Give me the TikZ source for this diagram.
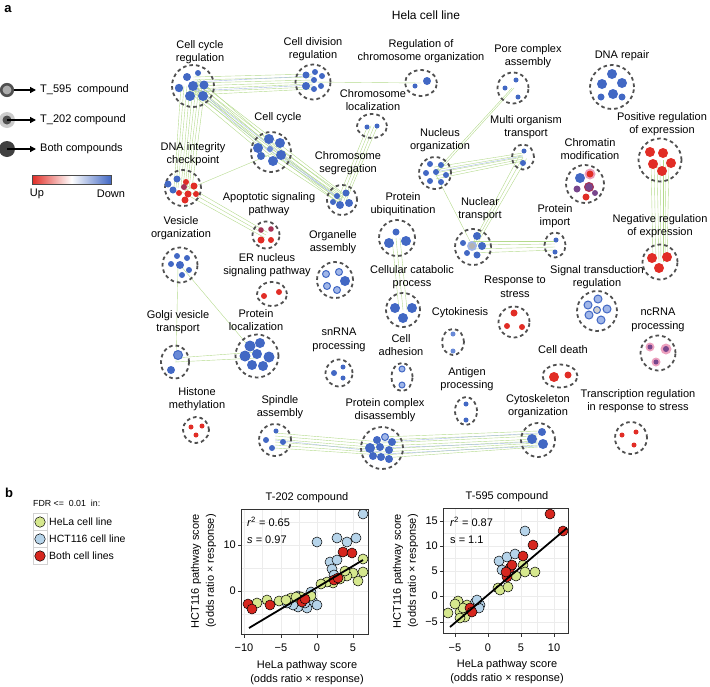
\documentclass[tikz,border=0pt]{standalone}
\usepackage{fontspec}
\setmainfont{Liberation Sans}
\usetikzlibrary{shapes.geometric,arrows.meta,backgrounds}
\definecolor{dblue}{RGB}{66,104,196}
\definecolor{mblue}{RGB}{105,138,215}
\definecolor{lblue}{RGB}{160,182,232}
\definecolor{dred}{RGB}{225,45,38}
\definecolor{wred}{RGB}{165,50,85}
\definecolor{purp}{RGB}{120,70,140}
\definecolor{pinkh}{RGB}{236,160,190}
\definecolor{dashgray}{RGB}{80,80,80}
\definecolor{egreen}{RGB}{180,218,140}
\definecolor{eblue}{RGB}{170,188,232}
\definecolor{sgreen}{RGB}{214,232,142}
\definecolor{sblue}{RGB}{182,212,234}
\definecolor{sred}{RGB}{214,38,30}
\definecolor{gridc}{RGB}{236,236,236}
\newcommand\pts[2]{\foreach \px/\py/\pr in {#2}{\path[#1] (\px,\py) circle[radius=\pr];}}
\newcommand\scat[2]{\foreach \px/\py in {#2}{\path[#1] (\px,\py) circle[radius=5];}}
\newcommand\bund[6]{\foreach \s/\e in {#6}{\draw[#5] ([shift={({\s*(#3)},{\s*(#4)})}]#1.center) -- ([shift={({\e*(#3)},{\e*(#4)})}]#2.center);}}
\begin{document}
\begin{tikzpicture}[x=1pt,y=-1pt,
  clus/.style={circle, draw=dashgray, line width=1.8pt, dash pattern=on 3.6pt off 3pt, inner sep=0pt},
  ell/.style={ellipse, draw=dashgray, line width=1.8pt, dash pattern=on 3.6pt off 3pt, inner sep=0pt},
  lab/.style={align=center, font=\fontsize{11}{13.6}\selectfont, inner sep=0pt},
  tk/.style={align=center, font=\fontsize{11}{13.6}\selectfont, inner sep=0pt},
  bd/.style={fill=dblue},
  mb/.style={fill=mblue},
  rd/.style={fill=dred},
  wr/.style={fill=wred},
  br/.style={fill=lblue, draw=dblue, line width=1pt},
  ed/.style={draw=egreen, line width=0.4pt},
  eb/.style={draw=eblue, line width=0.4pt},
  sg/.style={fill=sgreen, draw=black, line width=0.5pt},
  sb/.style={fill=sblue, draw=black, line width=0.5pt},
  sr/.style={fill=sred, draw=black, line width=0.5pt},
  arr/.style={-{Triangle[length=6pt,width=6pt]}, line width=1.3pt},
  key/.style={rectangle, draw=gray!35, line width=0.5pt, minimum width=14pt, minimum height=17pt, inner sep=0pt},
  kc/.style={circle, draw=black, line width=0.5pt, minimum size=10.5pt, inner sep=0pt}
]
\useasboundingbox (0,0) rectangle (710,686);

% panel letters and title
\node[font=\fontsize{13}{15}\selectfont\bfseries] (pa) at (8,9) {a};
\node[font=\fontsize{13}{15}\selectfont\bfseries] (pb) at (9,493) {b};
\node[font=\fontsize{12}{14}\selectfont] (title) at (426,15) {Hela cell line};

% legend a
\node[circle, fill=gray!65, draw=dashgray, line width=2.6pt, minimum size=11.5pt, inner sep=0pt] (lg1) at (7,90) {};
\node[circle, fill=gray!40, minimum size=16pt, inner sep=0pt] (lg2) at (7,120) {};
\node[circle, fill=dashgray, minimum size=9pt, inner sep=0pt] (lg2i) at (7,120) {};
\node[circle, fill=black!75, minimum size=16pt, inner sep=0pt] (lg3) at (7,149) {};
\node[lab, anchor=west] (lt1) at (40,90) {T\_595~~compound};
\node[lab, anchor=west] (lt2) at (40,120) {T\_202 compound};
\node[lab, anchor=west] (lt3) at (40,149) {Both compounds};
\draw[arr] (lg1.east) -- ([xshift=-4pt]lt1.west);
\draw[arr] (lg2.center) -- ([xshift=-4pt]lt2.west);
\draw[arr] (lg3.center) -- ([xshift=-4pt]lt3.west);
\shade[left color=dred, right color=dblue, middle color=white] (32,175) rectangle (111,184);
\draw[black!70, line width=0.5pt] (32,175) rectangle (111,184);
\node[lab] (up) at (37,194) {Up};
\node[lab] (down) at (111,194) {Down};

% clusters
\node[clus, minimum size=42pt] (ccr) at (193,86) {};
\node[clus, minimum size=35pt] (cdr) at (313,82) {};
\node[ell, minimum width=32pt, minimum height=26pt] (rco) at (421,83) {};
\node[clus, minimum size=31pt] (pca) at (513,88) {};
\node[clus, minimum size=44pt] (dr) at (612,87) {};
\node[ell, minimum width=30pt, minimum height=24pt] (cl) at (372,126) {};
\node[clus, minimum size=40pt] (cc) at (271,152) {};
\node[clus, minimum size=36pt] (dic) at (183,188) {};
\node[clus, minimum size=30pt] (cs) at (342,200) {};
\node[clus, minimum size=27pt] (aps) at (266,235) {};
\node[clus, minimum size=35pt] (vo) at (180,265) {};
\node[clus, minimum size=36pt] (pu) at (397,238) {};
\node[clus, minimum size=36pt] (oa) at (335,280) {};
\node[ell, minimum width=30pt, minimum height=24pt] (ern) at (272,294) {};
\node[clus, minimum size=34pt] (ccp) at (403,310) {};
\node[ell, minimum width=28pt, minimum height=33pt] (gvt) at (175,362) {};
\node[clus, minimum size=43pt] (pl) at (257,356) {};
\node[clus, minimum size=27pt] (sn) at (339,373) {};
\node[ell, minimum width=21pt, minimum height=28pt] (ca) at (402,377) {};
\node[clus, minimum size=26pt] (hm) at (196,430) {};
\node[clus, minimum size=32pt] (sa) at (275,440) {};
\node[clus, minimum size=42pt] (pcd) at (382,448) {};
\node[clus, minimum size=32pt] (no) at (435,173) {};
\node[ell, minimum width=22pt, minimum height=25pt] (mot) at (523,157) {};
\node[clus, minimum size=38pt] (chm) at (585,184) {};
\node[clus, minimum size=43pt] (pre) at (660,160) {};
\node[clus, minimum size=35pt] (nre) at (660,262) {};
\node[clus, minimum size=36pt] (nt) at (473,247) {};
\node[ell, minimum width=21pt, minimum height=25pt] (pi) at (555,245) {};
\node[clus, minimum size=31pt] (rs) at (514,322) {};
\node[clus, minimum size=40pt] (std) at (597,311) {};
\node[ell, minimum width=22pt, minimum height=26pt] (cy) at (453,342) {};
\node[clus, minimum size=35pt] (nc) at (658,353) {};
\node[ell, minimum width=35pt, minimum height=23pt] (cd) at (560,376) {};
\node[ell, minimum width=22pt, minimum height=28pt] (ap) at (466,411) {};
\node[clus, minimum size=34pt] (co) at (538,440) {};
\node[clus, minimum size=32pt] (trs) at (631,438) {};

% cluster labels
\node[lab] (l1) at (200,52) {Cell cycle\\regulation};
\node[lab] (l2) at (313,49) {Cell division\\regulation};
\node[lab] (l3) at (421,51) {Regulation of\\chromosome organization};
\node[lab] (l4) at (528,56) {Pore complex\\assembly};
\node[lab] (l5) at (622,56) {DNA repair};
\node[lab] (l6) at (373,100) {Chromosome\\localization};
\node[lab] (l7) at (278,118) {Cell cycle};
\node[lab] (l8) at (193,154) {DNA integrity\\checkpoint};
\node[lab] (l9) at (348,163) {Chromosome\\segregation};
\node[lab] (l10) at (269,204) {Apoptotic signaling\\pathway};
\node[lab] (l11) at (181,228) {Vesicle\\organization};
\node[lab] (l12) at (403,204) {Protein\\ubiquitination};
\node[lab] (l13) at (333,242) {Organelle\\assembly};
\node[lab] (l14) at (267,265) {ER nucleus\\signaling pathway};
\node[lab] (l15) at (412,277) {Cellular catabolic\\process};
\node[lab] (l16) at (178,322) {Golgi vesicle\\transport};
\node[lab] (l17) at (256,320) {Protein\\localization};
\node[lab] (l18) at (339,340) {snRNA\\processing};
\node[lab] (l19) at (401,345) {Cell\\adhesion};
\node[lab] (l20) at (197,399) {Histone\\methylation};
\node[lab] (l21) at (280,407) {Spindle\\assembly};
\node[lab] (l22) at (385,410) {Protein complex\\disassembly};
\node[lab] (l23) at (440,140) {Nucleus\\organization};
\node[lab] (l24) at (526,127) {Multi organism\\transport};
\node[lab] (l25) at (590,149) {Chromatin\\modification};
\node[lab] (l26) at (662,124) {Positive regulation\\of expression};
\node[lab] (l27) at (660,226) {Negative regulation\\of expression};
\node[lab] (l28) at (480,209) {Nuclear\\transport};
\node[lab] (l29) at (555,216) {Protein\\import};
\node[lab] (l30) at (515,287) {Response to\\stress};
\node[lab] (l31) at (597,277) {Signal transduction\\regulation};
\node[lab] (l32) at (460,313) {Cytokinesis};
\node[lab] (l33) at (658,320) {ncRNA\\processing};
\node[lab] (l34) at (563,350) {Cell death};
\node[lab] (l35) at (467,379) {Antigen\\processing};
\node[lab] (l36) at (538,406) {Cytoskeleton\\organization};
\node[lab] (l37) at (638,401) {Transcription regulation\\in response to stress};

% edges
\begin{scope}[on background layer]
\bund{ccr}{cdr}{0}{1}{ed}{-9/-8,-6/-5,-3/-2,0/0,3/2,6/5,9/7}
\bund{ccr}{cdr}{0}{1}{eb}{-4/-6,5/3}
\bund{ccr}{cc}{-0.65}{0.76}{ed}{-9/-7,-5/-4,-1/0,3/3,7/6}
\bund{ccr}{cc}{-0.65}{0.76}{eb}{1/1}
\bund{ccr}{dic}{1}{0}{ed}{-12/-9,-9/-7,-6/-5,-3/-2,0/0,3/2,6/4,9/6,12/9}
\bund{ccr}{cs}{-0.61}{0.79}{ed}{-7/-6,-4/-3,-1/0,2/2,5/4}
\bund{ccr}{cs}{-0.61}{0.79}{eb}{0/1}
\bund{cc}{cs}{-0.56}{0.83}{ed}{-7/-5,-3/-2,1/1,5/4}
\bund{cc}{cs}{-0.56}{0.83}{eb}{-1/0}
\bund{cc}{dic}{0.5}{0.86}{ed}{2/3}
\bund{cdr}{rco}{0}{1}{ed}{0/0}
\bund{cl}{cs}{0.93}{0.38}{ed}{-4/-4,-1/-1,2/2,5/4}
\bund{dic}{aps}{-0.49}{0.87}{ed}{-4/-3,0/0,4/3}
\bund{vo}{gvt}{1}{0}{ed}{-2/1}
\bund{vo}{pl}{1}{0}{ed}{0/0}
\bund{gvt}{pl}{0}{1}{ed}{-4/-4,0/2}
\bund{no}{mot}{0.18}{0.98}{ed}{-6/-4,-3/-2,0/0,3/2,6/4}
\bund{no}{mot}{0.18}{0.98}{eb}{-1/-1}
\bund{no}{pca}{1}{0}{ed}{-1/-1,2/1}
\bund{no}{nt}{1}{0}{ed}{0/0}
\bund{mot}{nt}{0.9}{0.4}{ed}{-4/-2,0/0,4/2}
\bund{nt}{pi}{0}{1}{ed}{-6/-4,-2/-1,2/2,6/5}
\bund{pre}{nre}{1}{0}{ed}{-9/-7,-6/-4,-3/-1,0/1,3/3,6/5,9/7}
\bund{pu}{ccp}{1}{0}{ed}{-5/-4,-1/0,3/4}
\bund{sa}{pcd}{0}{1}{ed}{-7/-6,-4/-3,-1/0,2/2,5/5,8/7}
\bund{sa}{pcd}{0}{1}{eb}{0/4}
\bund{pcd}{co}{0}{1}{ed}{-11/-9,-8/-6,-5/-4,-2/-1,1/1,4/3,7/5,10/7}
\bund{pcd}{co}{0}{1}{eb}{-6/-7,0/2,6/6}
\end{scope}

% dots
\pts{bd}{187/77/4, 198/73/3, 179/88/4.2, 193/86/5, 204/85/4.5, 190/96/5, 203/96/5}
\pts{bd}{306/75/3.5, 315/72/3, 322/76/3, 306/86/4, 314/80/3, 321/86/3, 314/89/3}
\pts{bd}{415/86/2.5, 427/81/4}
\pts{bd}{516/80/2.5, 505/88/2.5, 518/97/2.5}
\pts{bd}{612/74/5, 602/84/5, 622/83/5, 613/94/5, 601/97/3.5, 622/97/3.5}
\pts{bd}{367/127/2.5, 377/126/2.5}
\pts{bd}{269/139/5, 280/143/5, 258/148/5, 281/155/5, 261/156/4, 273/161/5}
\pts{mb}{270/149/3}
\pts{bd}{177/179/3.5, 168/184/3.5, 173/190/3.5}
\pts{rd}{186/182/3, 194/186/3.5, 179/193/3, 188/194/3.5, 185/200/3.5, 196/194/3}
\pts{wr}{184/187/3}
\pts{bd}{337/196/3, 346/193/3.5, 333/202/3, 340/205/4, 349/203/4}
\pts{wr}{261/230/2.8, 271/229/2.8}
\pts{rd}{261/240/3.5, 271/240/3}
\pts{bd}{177/256/3, 187/258/3, 171/264/3, 180/265/4, 189/270/3, 182/275/3}
\pts{bd}{396/232/3.5, 389/243/5, 406/241/5}
\pts{br}{326/274/3.5, 339/272/3.5, 327/286/3.5, 337/290/3.5}
\pts{bd}{345/281/5}
\pts{rd}{264/296/3, 279/292/3}
\pts{bd}{395/308/5, 412/308/5, 403/318/5}
\pts{fill=mblue, draw=dblue, line width=1pt}{178/355/4.5}
\pts{bd}{171/370/4}
\pts{bd}{250/346/5.5, 260/343/5, 245/356/5.5, 257/354/5, 269/357/5.5, 252/365/5, 263/366/5}
\pts{bd}{343/367/2.5, 334/373/3, 343/378/2.5}
\pts{br}{402/369/3, 402/385/3}
\pts{rd}{191/427/2.5, 202/426/2.5, 196/435/2.5}
\pts{bd}{276/431/2.5, 266/440/3, 283/442/3, 272/448/3}
\pts{bd}{377/440/4, 392/442/4, 370/448/5, 380/447/4, 389/450/4, 373/456/4, 381/457/4, 389/459/4}
\pts{br}{385/437/3.5}
\pts{bd}{430/164/3, 441/165/3, 426/173/3, 436/172/3, 446/175/3, 430/181/3, 441/182/3}
\pts{bd}{524/151/2.5, 523/163/3}
\pts{bd}{580/178/5}
\pts{fill=pinkh}{590/174/5.5}
\pts{rd}{590/174/3.5, 586/197/3.5}
\pts{fill=purp}{577/189/3.5, 595/193/3}
\pts{fill=purp, draw=wred, line width=1pt}{589/187/4.5}
\pts{rd}{650/152/5, 663/153/5, 653/164/5, 671/163/5, 662/171/5}
\pts{rd}{652/258/5, 667/257/5, 659/268/5}
\pts{bd}{477/236/4, 463/243/3, 482/246/4, 467/253/3, 477/255/3.5}
\pts{fill=lblue}{472/246/5}
\pts{fill=gray!60}{472/246/3}
\pts{bd}{556/240/2.5, 555/252/2.5}
\pts{rd}{514/313/3.5, 507/326/3, 522/327/3}
\pts{br}{598/299/4, 588/305/4, 607/309/4, 589/315/4, 601/320/4}
\pts{fill=gray!35, draw=dblue, line width=1pt}{597/310/3.5}
\pts{mb}{453/334/2.5, 453/351/2.5}
\pts{fill=pinkh}{650/347/4.5, 666/349/5.5, 656/362/4.5}
\pts{fill=purp}{650/347/2.5, 666/349/3, 656/362/2.5}
\pts{rd}{554/377/5, 568/375/3.5}
\pts{bd}{466/404/2.5, 466/420/2.5}
\pts{bd}{542/432/4, 532/439/5, 543/444/5}
\pts{rd}{622/435/2.5, 636/432/2.5, 634/445/2.5}

% ---------- panel b legend
\node[font=\fontsize{8.8}{10}\selectfont, anchor=west, inner sep=0pt] (fdr) at (33,503) {FDR <=~~0.01~~in:};
\node[key] (k1) at (40,522) {};
\node[key] (k2) at (40,539) {};
\node[key] (k3) at (40,556) {};
\node[kc, fill=sgreen] (c1) at (k1) {};
\node[kc, fill=sblue] (c2) at (k2) {};
\node[kc, fill=sred] (c3) at (k3) {};
\node[tk, anchor=west, font=\fontsize{10.5}{12}\selectfont] (kt1) at (49,522) {HeLa cell line};
\node[tk, anchor=west, font=\fontsize{10.5}{12}\selectfont] (kt2) at (49,539) {HCT116 cell line};
\node[tk, anchor=west, font=\fontsize{10.5}{12}\selectfont] (kt3) at (49,556) {Both cell lines};

% ---------- plot 1
\begin{scope}
\clip (241,509) rectangle (368,634);
\foreach \gx in {244,262,281,299,317,335,353} \draw[gridc, line width=0.5pt] (\gx,509) -- (\gx,634);
\foreach \gy in {522,545,568,591,614} \draw[gridc, line width=0.5pt] (241,\gy) -- (368,\gy);
\scat{sb}{363/514, 317/542, 337/538, 347/542, 356/538, 330/562, 337/560, 332/569, 334/575, 292/600, 298/596, 303/598, 308/597, 313/602, 317/605, 298/607, 307/608, 293/605, 287/603, 311/592, 305/603}
\scat{sg}{363/559, 363/572, 358/581, 353/573, 347/576, 340/579, 345/571, 333/583, 327/582, 321/584, 291/598, 301/597, 279/601, 267/600, 257/603, 286/600, 296/597, 311/596}
\scat{sr}{343/552, 352/553, 334/580, 248/604, 252/609, 270/605, 302/602, 305/599, 338/578}
\draw[black, line width=1.8pt] (249,628) -- (363,560);
\end{scope}
\draw[black!80, line width=0.8pt] (241,509) rectangle (368,634);
\foreach \gx in {244,281,317,353} \draw[black!80, line width=0.6pt] (\gx,634) -- (\gx,637.5);
\foreach \gy in {545,591} \draw[black!80, line width=0.6pt] (241,\gy) -- (237.5,\gy);
\node[tk] (t1) at (307,498) {T-202 compound};
\node[tk, anchor=east] (y1a) at (236,545) {10};
\node[tk, anchor=east] (y1b) at (236,591) {0};
\node[tk] (x1a) at (244,648) {−10};
\node[tk] (x1b) at (281,648) {−5};
\node[tk] (x1c) at (317,648) {0};
\node[tk] (x1d) at (353,648) {5};
\node[tk, anchor=west] (r1) at (247,522) {\textit{r}\textsuperscript{2} = 0.65};
\node[tk, anchor=west] (s1) at (247,540) {\textit{s} = 0.97};
\node[tk] (xl1) at (307,666) {HeLa pathway score};
\node[tk] (xl1b) at (307,680) {(odds ratio × response)};
\node[tk, rotate=90] (yl1) at (196,571) {HCT116 pathway score};
\node[tk, rotate=90] (yl1b) at (211,571) {(odds ratio × response)};

% ---------- plot 2
\begin{scope}
\clip (443,508) rectangle (568,633);
\foreach \gx in {455,471.5,488,504.5,521,537.5,554} \draw[gridc, line width=0.5pt] (\gx,508) -- (\gx,633);
\foreach \gy in {622,609,596,583.5,571,558,546,533,521} \draw[gridc, line width=0.5pt] (443,\gy) -- (568,\gy);
\scat{sb}{525/531, 499/561, 507/557, 515/554, 502/570, 475/603, 480/605, 479/608, 477/600}
\scat{sg}{523/565, 525/572, 535/572, 516/576, 498/588, 500/590, 508/587, 458/601, 448/613, 460/612, 465/617, 460/618, 467/605, 463/608, 455/604}
\scat{sr}{550/514, 563/531, 533/545, 523/556, 510/568, 507/577, 512/565, 470/608, 472/612, 506/572}
\draw[black, line width=1.8pt] (450,627) -- (567,528);
\end{scope}
\draw[black!80, line width=0.8pt] (443,508) rectangle (568,633);
\foreach \gx in {455,488,521,554} \draw[black!80, line width=0.6pt] (\gx,633) -- (\gx,636.5);
\foreach \gy in {521,546,571,596,622} \draw[black!80, line width=0.6pt] (443,\gy) -- (439.5,\gy);
\node[tk] (t2) at (507,497) {T-595 compound};
\node[tk, anchor=east] (y2a) at (438,521) {15};
\node[tk, anchor=east] (y2b) at (438,546) {10};
\node[tk, anchor=east] (y2c) at (438,571) {5};
\node[tk, anchor=east] (y2d) at (438,596) {0};
\node[tk, anchor=east] (y2e) at (438,622) {−5};
\node[tk] (x2a) at (455,648) {−5};
\node[tk] (x2b) at (488,648) {0};
\node[tk] (x2c) at (521,648) {5};
\node[tk] (x2d) at (554,648) {10};
\node[tk, anchor=west] (r2) at (450,522) {\textit{r}\textsuperscript{2} = 0.87};
\node[tk, anchor=west] (s2) at (450,540) {s = 1.1};
\node[tk] (xl2) at (507,665) {HeLa pathway score};
\node[tk] (xl2b) at (507,679) {(odds ratio × response)};
\node[tk, rotate=90] (yl2) at (398,571) {HCT116 pathway score};
\node[tk, rotate=90] (yl2b) at (413,571) {(odds ratio × response)};
\end{tikzpicture}
\end{document}
